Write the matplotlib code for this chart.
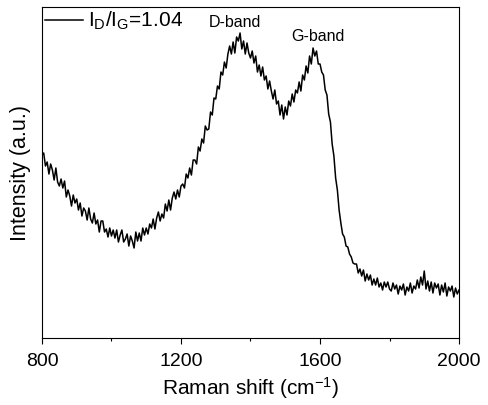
"""Raman spectrum with D and G bands."""

import matplotlib as mpl
mpl.use("Agg")
import matplotlib.pyplot as plt
from matplotlib.ticker import MultipleLocator

# Raman shift (cm^-1), 5 cm^-1 step, intensity (a.u.)
shift = list(range(800, 2001, 5))
intensity = [
    # 800 - 900
    183, 185, 172, 176, 164, 174, 168, 158, 170, 156, 152, 159, 150, 157, 141, 148, 142, 132, 143, 135, 139,
    # 905 - 1000
    128, 135, 122, 130, 127, 118, 130, 119, 115, 125, 114, 118, 106, 117, 117, 106, 109, 101, 110, 102,
    # 1005 - 1100
    108, 100, 108, 96, 103, 108, 96, 99, 104, 92, 102, 97, 90, 106, 97, 105, 97, 110, 103, 110,
    # 1105 - 1200
    104, 114, 110, 119, 109, 120, 126, 117, 124, 120, 134, 127, 138, 128, 140, 146, 139, 148, 141, 152,
    # 1205 - 1300
    154, 150, 164, 160, 170, 163, 178, 178, 174, 191, 187, 199, 195, 212, 208, 209, 226, 223, 240, 239,
    # 1305 - 1400
    252, 249, 266, 263, 276, 270, 284, 292, 284, 296, 285, 301, 297, 305, 289, 297, 284, 295, 285, 280,
    # 1405 - 1500
    287, 275, 282, 266, 273, 262, 271, 258, 262, 249, 257, 247, 239, 248, 234, 237, 223, 233, 219, 231,
    # 1505 - 1600
    223, 237, 232, 244, 236, 248, 245, 256, 247, 263, 258, 272, 265, 282, 274, 290, 282, 287, 274, 274,
    # 1605 - 1700
    266, 263, 248, 243, 224, 216, 194, 182, 160, 148, 128, 115, 104, 101, 92, 91, 84, 81, 75, 74,
    # 1705 - 1800
    74, 65, 69, 62, 68, 57, 64, 58, 63, 53, 59, 53, 60, 51, 55, 48, 56, 51, 56, 49,
    # 1805 - 1900
    47, 55, 49, 53, 44, 52, 48, 54, 43, 51, 47, 55, 45, 52, 49, 58, 50, 61, 53, 67,
    # 1905 - 2000
    49, 57, 47, 56, 45, 55, 50, 54, 43, 53, 46, 55, 42, 51, 47, 52, 41, 50, 44, 48,
]
ratio_label = r"$\mathregular{I_D/I_G}$=1.04"
band_names = ["D-band", "G-band"]
band_pos = [(1354, 316), (1593, 302)]

mpl.rcParams.update(
    {
        "font.family": "Liberation Sans",
        "mathtext.fontset": "custom",
        "mathtext.rm": "Liberation Sans",
        "axes.linewidth": 0.8,
    }
)

fig = plt.figure(figsize=(4.88, 4.05), dpi=100)
ax = fig.add_axes([0.086, 0.1654, 0.8546, 0.8173])

ax.plot(shift, intensity, color="black", linewidth=1.1, label=ratio_label)
for name, (x, y) in zip(band_names, band_pos):
    ax.text(x, y, name, ha="center", va="center", fontsize=11.5)

ax.set_xlim(800, 2000)
ax.set_ylim(0, 331)
ax.xaxis.set_major_locator(MultipleLocator(400))
ax.xaxis.set_minor_locator(MultipleLocator(200))
ax.set_yticks([])
ax.tick_params(axis="x", which="major", direction="out", length=4.5, width=0.8, labelsize=14, pad=6)
ax.tick_params(axis="x", which="minor", direction="out", length=2.5, width=0.8)
ax.set_xlabel(r"Raman shift (cm$\mathregular{^{-1}}$)", fontsize=15, labelpad=4)
ax.set_ylabel("Intensity (a.u.)", fontsize=15.5, labelpad=8)

ax.legend(loc="upper left", frameon=False, fontsize=15, handlelength=1.8,
          handletextpad=0.25, borderaxespad=0.0, borderpad=0.15)

fig.savefig("out.png", dpi=100)
